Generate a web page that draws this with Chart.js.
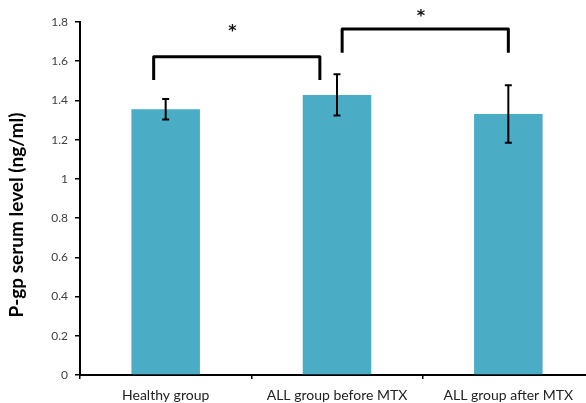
<!DOCTYPE html>
<html>
<head>
<meta charset="utf-8">
<script src="https://cdn.jsdelivr.net/npm/chart.js@4/dist/chart.umd.min.js"></script>
<style>
  html, body { margin: 0; padding: 0; background: #fff; overflow: hidden; }
  #wrap { width: 600px; height: 403px; }
</style>
</head>
<body>
<div id="wrap"><canvas id="c" width="600" height="403"></canvas></div>
<script>
// Groups on the x axis
const categories = ['Healthy group', 'ALL group before MTX', 'ALL group after MTX'];
// Mean serum P-gp (ng/ml) and its spread per group
const means = [1.355, 1.428, 1.331];
const spread = [0.052, 0.105, 0.147];
// Y axis range and step
const yMin = 0, yMax = 1.8, yStep = 0.2;
const yTitle = 'P-gp serum level (ng/ml)';
// Significance brackets: [from group, to group, bar top, leg bottom]
const brackets = [
  [-0.07, 0.9, 1.623, 1.504],
  [1.03, 2.0, 1.764, 1.643]
];
// Significance marks: [group position, value, text]
const marks = [
  [0.39, 1.765, '*'],
  [1.49, 1.84, '*']
];

const FONT = 'Lato, "Open Sans", "Liberation Sans", sans-serif';

const overlay = {
  id: 'overlay',
  afterDatasetsDraw(chart) {
    const { ctx, scales: { x, y } } = chart;
    ctx.save();
    ctx.strokeStyle = '#000';
    ctx.lineWidth = 2;
    // error bars
    means.forEach((m, i) => {
      const px = x.getPixelForValue(i);
      const top = y.getPixelForValue(m + spread[i]);
      const bot = y.getPixelForValue(m - spread[i]);
      ctx.beginPath();
      ctx.moveTo(px, top); ctx.lineTo(px, bot);
      ctx.moveTo(px - 3.5, top); ctx.lineTo(px + 3.5, top);
      ctx.moveTo(px - 3.5, bot); ctx.lineTo(px + 3.5, bot);
      ctx.stroke();
    });
    // brackets
    ctx.lineWidth = 3;
    ctx.lineJoin = 'round';
    brackets.forEach(([a, b, t, l]) => {
      const xa = x.getPixelForValue(a), xb = x.getPixelForValue(b);
      const yt = y.getPixelForValue(t), yl = y.getPixelForValue(l);
      ctx.beginPath();
      ctx.moveTo(xa, yl); ctx.lineTo(xa, yt); ctx.lineTo(xb, yt); ctx.lineTo(xb, yl);
      ctx.stroke();
    });
    // asterisks
    ctx.fillStyle = '#111';
    ctx.font = 'bold 16px "DejaVu Sans", sans-serif';
    ctx.textAlign = 'center';
    ctx.textBaseline = 'middle';
    marks.forEach(([g, v, s]) => {
      ctx.fillText(s, x.getPixelForValue(g), y.getPixelForValue(v) + 3);
    });
    // y axis title
    ctx.fillStyle = '#000';
    ctx.font = 'bold 19px ' + FONT;
    ctx.translate(17, 215);
    ctx.rotate(-Math.PI / 2);
    ctx.fillText(yTitle, 0, 0);
    ctx.restore();
  }
};

new Chart(document.getElementById('c'), {
  type: 'bar',
  data: {
    labels: categories,
    datasets: [{
      data: means,
      backgroundColor: '#4BACC6',
      borderWidth: 0,
      barPercentage: 0.8,
      categoryPercentage: 0.5
    }]
  },
  options: {
    responsive: false,
    animation: false,
    events: [],
    layout: { padding: { left: 0, top: 22, right: 6, bottom: 0 } },
    plugins: { legend: { display: false }, tooltip: { enabled: false } },
    scales: {
      x: {
        afterFit(s) { s.height = 28; },
        border: { display: true, color: '#000', width: 2 },
        grid: { display: true, drawOnChartArea: false, drawTicks: true, tickLength: 4, color: '#000', lineWidth: 1.5, offset: true },
        ticks: { color: '#222', font: { family: FONT, size: 14 }, padding: 8, maxRotation: 0 }
      },
      y: {
        min: yMin, max: yMax,
        afterFit(s) { s.width = 80; },
        border: { display: true, color: '#000', width: 2 },
        grid: { display: true, drawOnChartArea: false, drawTicks: true, tickLength: 5, color: '#000', lineWidth: 1.5 },
        ticks: {
          stepSize: yStep,
          color: '#404040',
          font: { family: FONT, size: 12 },
          padding: 7,
          callback: v => String(Number(v.toFixed(1)))
        }
      }
    }
  },
  plugins: [overlay]
});
</script>
</body>
</html>
